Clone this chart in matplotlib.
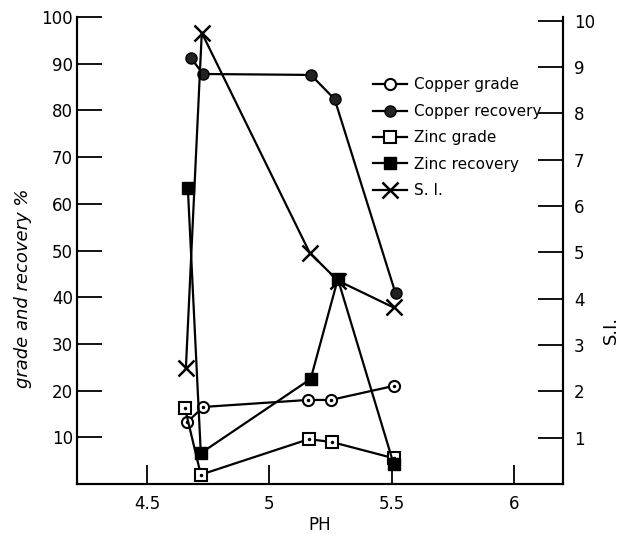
import numpy as np
import matplotlib.pyplot as plt

# values
cu_grade_ph = [4.663, 4.73, 5.157, 5.251, 5.508]
cu_grade = [13.2, 16.5, 18.0, 18.0, 21.0]

cu_rec_ph = [4.68, 4.729, 5.17, 5.267, 5.516]
cu_rec = [91.2, 87.8, 87.6, 82.4, 40.8]

zn_grade_ph = [4.655, 4.72, 5.161, 5.255, 5.51]
zn_grade = [16.3, 2.0, 9.6, 9.0, 5.5]

zn_rec_ph = [4.667, 4.72, 5.169, 5.28, 5.508]
zn_rec = [63.4, 6.6, 22.5, 43.9, 4.3]

si_ph = [4.659, 4.724, 5.165, 5.28, 5.508]
si = [2.5, 9.74, 4.99, 4.39, 3.81]

left_ticks = [10, 20, 30, 40, 50, 60, 70, 80, 90, 100]
right_ticks = [1, 2, 3, 4, 5, 6, 7, 8, 9, 10]
x_ticks = [4.5, 5, 5.5, 6]
x_ticklabels = ['4.5', '5', '5.5', '6']

fig = plt.figure(figsize=(6.32, 5.35), dpi=100)
ax = fig.add_axes([0.1218, 0.0953, 0.7690, 0.8729])
ax2 = ax.twinx()

lw = 1.6
ms = 8
l1, = ax.plot(cu_grade_ph, cu_grade, '-o', color='k', lw=lw, ms=ms,
              mfc='white', mec='k', mew=1.5, label='Copper grade')
ax.plot(cu_grade_ph, cu_grade, '.', color='k', ms=3)
l2, = ax.plot(cu_rec_ph, cu_rec, '-o', color='k', lw=lw, ms=ms,
              mfc='#222222', mec='k', label='Copper recovery')
l3, = ax.plot(zn_grade_ph, zn_grade, '-s', color='k', lw=lw, ms=ms,
              mfc='white', mec='k', mew=1.5, label='Zinc grade')
ax.plot(zn_grade_ph, zn_grade, '.', color='k', ms=3)
l4, = ax.plot(zn_rec_ph, zn_rec, '-s', color='k', lw=lw, ms=ms,
              mfc='k', mec='k', label='Zinc recovery')
l5, = ax2.plot(si_ph, si, '-x', color='k', lw=lw, ms=11, mew=1.8, label='S. I.')

ax.set_xlim(4.214, 6.2)
ax.set_ylim(0, 100)
ax2.set_ylim(0, 10.08)

ax.set_xticks(x_ticks)
ax.set_xticklabels(x_ticklabels)
ax.set_yticks(left_ticks)
ax2.set_yticks(right_ticks)

ax.tick_params(axis='y', direction='in', length=18, width=1.3, labelsize=12, pad=3)
ax.tick_params(axis='x', direction='in', length=14, width=1.3, labelsize=12, pad=8)
ax2.tick_params(axis='y', direction='in', length=18, width=1.3, labelsize=12, pad=8)

for a in (ax, ax2):
    a.spines['top'].set_visible(False)
    for s in ('left', 'right', 'bottom'):
        a.spines[s].set_linewidth(1.5)

ax.set_ylabel('grade and recovery %', fontsize=13, style='italic')
ax.yaxis.set_label_coords(-0.092, 0.42)
ax2.set_ylabel('S.I.', fontsize=13, rotation=90)
ax2.yaxis.set_label_coords(1.08, 0.33)
ax.set_xlabel('PH', fontsize=12, labelpad=2)

ax.legend(handles=[l1, l2, l3, l4, l5], loc='upper right',
          bbox_to_anchor=(0.985, 0.9), frameon=False, fontsize=11,
          handlelength=2.2, labelspacing=0.75, handletextpad=0.5)

fig.savefig('out.png', dpi=100)
